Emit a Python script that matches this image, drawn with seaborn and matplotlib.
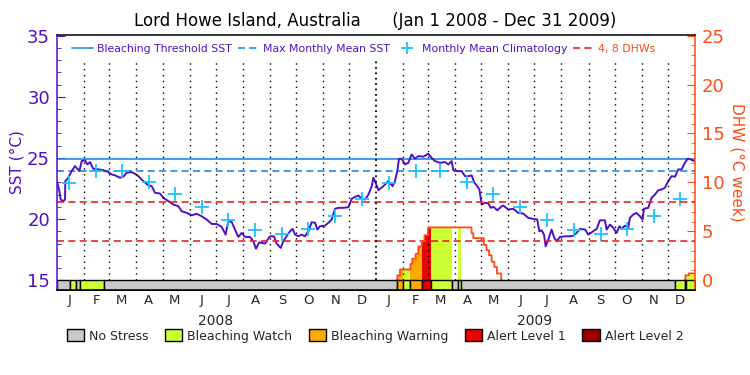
"""Lord Howe Island SST / DHW chart, 2008-2009."""

import matplotlib

matplotlib.use("Agg")
import matplotlib.dates as mdates
import matplotlib.pyplot as plt
import numpy as np
import pandas as pd
import seaborn as sns
from matplotlib.lines import Line2D
from matplotlib.patches import Patch

START = pd.Timestamp("2008-01-01")
END = pd.Timestamp("2010-01-01")

# SST readings: day offset from Jan 1 2008 and value (degC)
SST_DAYS = [
    0, 0.5, 2.7, 4.2, 7.3, 9.2, 9.5, 13, 16.8, 20.6, 25.6, 28.3, 32, 34.8, 37.8, 41.6,
    47.4, 53.1, 58.8, 62.6, 66.5, 72.2, 76, 79.8, 85.5, 89.4, 93.2, 98.9, 104.6, 108.5,
    112.3, 118, 121.8, 127.6, 133.3, 139, 142.8, 148.6, 154.3, 160, 165.8, 171.5, 177.2,
    182.9, 188.7, 193.2, 196.3, 200.1, 203.9, 207.8, 211.6, 215.4, 221.1, 224.9, 228,
    231.8, 238.3, 244, 248.6, 251.7, 256.3, 259.3, 263, 267, 270, 272.7, 276.5, 280.3,
    284, 288, 291.8, 295.6, 298.3, 301.3, 307, 311, 314.7, 318.5, 322.3, 328, 334,
    337.7, 341.5, 345.3, 349.2, 353, 356.8, 360.6, 362.5, 365.5, 368.2, 373.9, 379.6,
    384.6, 387.2, 389.9, 391.8, 394.9, 398.7, 402.5, 406.3, 410.2, 414, 419.7, 425.4,
    429.3, 433.1, 438.8, 444.5, 448.4, 452.2, 454.1, 457.9, 463.6, 467.5, 471.3, 475.1,
    478.2, 480.9, 483.9, 486.6, 490.4, 494.2, 496.9, 500, 504.6, 509.5, 511.4, 517.1,
    522.8, 528.5, 534.3, 540, 545.7, 550.3, 552.6, 555.3, 558, 559.9, 562.9, 566.7,
    569.8, 572.5, 576.3, 582, 587.8, 591.6, 595.4, 599.2, 605, 608.8, 612.6, 618.3,
    622.1, 627.8, 629.7, 633.6, 637.4, 641.2, 644.3, 646.9, 650.7, 654.5, 656.4, 660.2,
    664, 667.9, 670.9, 672.5, 677.4, 681.3, 685.1, 688.9, 692.7, 696.5, 700.4, 704.2,
    708, 711.8, 715.6, 719.4, 722.5, 725.9, 730.1,
]
SST_VALUES = [
    23.10, 22.97, 22.28, 21.60, 21.46, 21.60, 23.10, 23.38, 23.92, 24.33, 23.92, 24.74,
    24.80, 24.47, 24.66, 24.11, 24.06, 24.00, 23.84, 23.65, 23.57, 23.38, 23.46, 23.79,
    23.84, 23.70, 23.51, 23.10, 22.77, 22.69, 22.15, 22.09, 21.74, 21.46, 21.19, 21.05,
    20.64, 20.51, 20.31, 20.43, 20.23, 19.96, 19.60, 19.60, 19.36, 18.73, 19.82, 19.77,
    19.14, 18.54, 18.87, 18.54, 18.54, 18.18, 17.58, 18.10, 17.99, 18.59, 18.59, 17.99,
    17.64, 18.18, 18.59, 19.00, 19.20, 18.73, 18.59, 18.73, 18.59, 19.00, 19.74, 19.70,
    19.14, 19.41, 19.46, 19.70, 19.96, 20.84, 20.92, 20.92, 20.97, 21.66, 21.82, 21.93,
    21.66, 21.60, 22.00, 22.69, 23.38, 22.89, 22.36, 22.69, 23.10, 22.69, 23.10, 23.92,
    24.93, 24.93, 24.47, 24.60, 25.29, 24.93, 25.15, 25.10, 25.34, 25.00, 24.74, 24.60,
    24.66, 24.47, 24.74, 24.00, 23.92, 23.92, 23.51, 23.51, 23.57, 22.97, 22.75, 22.42,
    21.19, 21.33, 21.28, 20.92, 21.00, 20.72, 21.05, 21.10, 20.78, 20.84, 20.50, 20.45,
    20.10, 20.01, 19.96, 19.00, 19.08, 18.73, 17.77, 18.32, 19.14, 18.46, 18.18, 18.54,
    18.59, 18.59, 18.64, 18.87, 19.20, 19.14, 18.73, 18.92, 19.20, 19.90, 19.90, 19.14,
    19.55, 19.28, 18.87, 19.41, 19.20, 19.46, 19.28, 20.10, 20.37, 20.50, 20.23, 19.96,
    20.84, 20.92, 21.74, 22.00, 22.36, 22.42, 22.56, 23.10, 23.51, 23.46, 24.06, 24.06,
    24.60, 24.93, 24.88, 24.74,
]

CLIM_MONTHS = list(range(1, 13))
CLIM_VALUES = [22.97, 23.92, 23.92, 23.05, 22.09, 21.00, 19.90, 19.14, 18.79, 19.20, 20.23, 21.62]

MMM_SST = 23.95
THRESHOLD_SST = MMM_SST + 1.0
DHW_LINES = [4, 8]

DHW_DATES = [
    "2009-01-25", "2009-01-28", "2009-02-09", "2009-02-11", "2009-02-15", "2009-02-18",
    "2009-02-22", "2009-02-25", "2009-03-01", "2009-03-02", "2009-04-20", "2009-04-22",
    "2009-05-04", "2009-05-07", "2009-05-10", "2009-05-13", "2009-05-16", "2009-05-19",
    "2009-05-24", "2009-12-21", "2009-12-25",
]
DHW_VALUES = [
    0.5, 1.1, 1.67, 2.2, 2.7, 3.45, 4.0, 4.6, 5.3, 5.4, 4.8, 4.3,
    3.6, 3.07, 2.56, 1.88, 1.36, 0.69, 0.0, 0.5, 0.7,
]

# stress level starts: 0 none, 1 watch, 2 warning, 3 alert 1, 4 alert 2
STRESS_DATES = [
    "2008-01-01", "2008-01-16", "2008-01-23", "2008-01-27", "2008-02-24", "2009-01-25",
    "2009-02-01", "2009-02-09", "2009-02-22", "2009-03-05", "2009-03-29", "2009-04-05",
    "2009-04-08", "2009-12-09", "2009-12-21", "2009-12-22",
]
STRESS_LEVELS = [0, 1, 0, 1, 0, 2, 1, 2, 3, 1, 0, 1, 0, 1, 0, 1]
STRESS_NAMES = ["No Stress", "Bleaching Watch", "Bleaching Warning", "Alert Level 1", "Alert Level 2"]
STRESS_COLORS = ["#c8c8c8", "#ccff33", "#ffaa00", "#ee0000", "#960000"]

MONTH_LETTERS = list("JFMAMJJASOND")

PURPLE = "#5010c8"
ORANGE = "#ff4b14"
BLUE = "#1c8ce8"
CYAN = "#19c3ff"
RED = "#ee2222"


def sst_to_dhw(v):
    return (v - 15.0) * 1.25


def main() -> None:
    sns.set_style("ticks")
    plt.rcParams["font.family"] = ["DejaVu Sans"]

    days = pd.date_range(START, END, freq="D")
    dhw = (
        pd.Series(DHW_VALUES, index=pd.to_datetime(DHW_DATES))
        .reindex(days, method="ffill")
        .fillna(0.0)
    )
    level = pd.Series(STRESS_LEVELS, index=pd.to_datetime(STRESS_DATES)).reindex(days, method="ffill")

    sst_df = pd.DataFrame({"date": START + pd.to_timedelta(SST_DAYS, unit="D"), "sst": SST_VALUES})
    clim_df = pd.DataFrame({
        "date": [pd.Timestamp(y, m, 15) for y in (2008, 2009) for m in CLIM_MONTHS],
        "sst": CLIM_VALUES * 2,
    })

    fig = plt.figure(figsize=(7.5, 3.75), dpi=100)
    ax = fig.add_axes([57 / 750, 85 / 375, 638 / 750, 255 / 375])
    ax2 = ax.twinx()

    y_lo, y_hi = 14.2, 35.05
    ax.set_ylim(y_lo, y_hi)
    ax2.set_ylim(sst_to_dhw(y_lo), sst_to_dhw(y_hi))
    ax.set_xlim(START, END)

    # SST side
    ax.axhline(THRESHOLD_SST, color=BLUE, lw=1.2, zorder=2)
    ax.axhline(MMM_SST, color=BLUE, lw=1.2, dashes=(4.2, 2.6), zorder=2)
    sns.lineplot(data=sst_df, x="date", y="sst", ax=ax, color=PURPLE, lw=1.4, zorder=4, legend=False)
    sns.scatterplot(data=clim_df, x="date", y="sst", ax=ax, marker="+", s=90, color=CYAN,
                    linewidth=1.3, zorder=5, legend=False)

    # DHW side: fill by stress level, then the outline
    for k in range(1, 5):
        mask = (level == k) | (level.shift(1) == k)
        if mask.any():
            ax2.fill_between(days, 0, dhw, where=mask.values, step="post",
                             color=STRESS_COLORS[k], lw=0, zorder=1)
    keep = (dhw > 0) | (dhw.shift(1) > 0) | (dhw.shift(-1) > 0)
    ax2.plot(days, dhw.where(keep), drawstyle="steps-post", color=ORANGE, lw=1.3, zorder=3)
    for v in DHW_LINES:
        ax2.axhline(v, color=RED, lw=1.2, dashes=(4.2, 2.6), zorder=2)

    # month grid
    for d in pd.date_range("2008-02-01", "2009-12-01", freq="MS"):
        big = d == pd.Timestamp("2009-01-01")
        ax2.axvline(d, ymin=0.04, ymax=0.9, color="black", lw=1.3 if big else 1.0,
                    linestyle=(0, (1, 2.0)) if big else (0, (1, 3.2)), zorder=2)

    # stress strip under the zero line
    starts = pd.to_datetime(STRESS_DATES)
    ends = list(starts[1:]) + [END]
    for s, e, k in zip(starts, ends, STRESS_LEVELS):
        x0 = mdates.date2num(s)
        ax2.broken_barh([(x0, mdates.date2num(e) - x0)], (sst_to_dhw(y_lo), -sst_to_dhw(y_lo)),
                        facecolors=STRESS_COLORS[k], edgecolor="black", lw=1.0, zorder=6)

    # x axis: month letters and years
    mids = [pd.Timestamp(y, m, 15) for y in (2008, 2009) for m in CLIM_MONTHS]
    ax.set_xticks(mids, labels=MONTH_LETTERS * 2)
    ax.set_xticks([pd.Timestamp("2008-07-01"), pd.Timestamp("2009-07-01")], labels=["2008", "2009"], minor=True)
    ax.tick_params(axis="x", which="major", length=0, pad=3, labelsize=9.5)
    ax.tick_params(axis="x", which="minor", length=0, pad=17, labelsize=10)
    ax.set_xlabel("")

    # y axes
    ax.set_yticks(np.arange(15, 36, 5))
    ax.set_yticks(np.arange(15, 36, 1), minor=True)
    ax.tick_params(axis="y", which="both", direction="in", colors=PURPLE, labelsize=13, pad=5)
    ax.tick_params(axis="y", which="major", length=6)
    ax.tick_params(axis="y", which="minor", length=3)
    ax.set_ylabel("SST (°C)", color=PURPLE, fontsize=11, labelpad=2)

    ax2.set_yticks(np.arange(0, 26, 5))
    ax2.set_yticks(np.arange(0, 26, 1), minor=True)
    ax2.tick_params(axis="y", which="both", direction="in", colors=ORANGE, labelsize=13, pad=5)
    ax2.tick_params(axis="y", which="major", length=6)
    ax2.tick_params(axis="y", which="minor", length=3)
    ax2.set_ylabel("DHW (°C week)", color=ORANGE, fontsize=11, rotation=270, labelpad=14)

    # frame drawn on the top axes so it sits over the strip
    for sp in ax.spines.values():
        sp.set_visible(False)
    spine_colors = {"left": PURPLE, "right": ORANGE, "top": "black", "bottom": "black"}
    for name, sp in ax2.spines.items():
        sp.set_visible(True)
        sp.set_color(spine_colors[name])
        sp.set_linewidth(1.1)
        sp.set_zorder(10)

    handles = [
        Line2D([], [], color=BLUE, lw=1.2),
        Line2D([], [], color=BLUE, lw=1.2, dashes=(4.2, 2.6)),
        Line2D([], [], color=CYAN, marker="+", ms=9, mew=1.3, ls="none"),
        Line2D([], [], color=RED, lw=1.2, dashes=(4.2, 2.6)),
    ]
    labels = ["Bleaching Threshold SST", "Max Monthly Mean SST", "Monthly Mean Climatology", "4, 8 DHWs"]
    leg = ax2.legend(handles, labels, loc="upper left", bbox_to_anchor=(0.012, 0.995), ncol=4,
                     frameon=False, fontsize=7.8, handlelength=1.9, handletextpad=0.4,
                     columnspacing=0.6, borderaxespad=0.3)
    for txt, c in zip(leg.get_texts(), [PURPLE, PURPLE, PURPLE, ORANGE]):
        txt.set_color(c)

    fig.legend(
        [Patch(facecolor=c, edgecolor="black", lw=1.0) for c in STRESS_COLORS],
        STRESS_NAMES, loc="center", bbox_to_anchor=(0.5, 1 - 336 / 375), ncol=5,
        frameon=False, fontsize=9, handlelength=1.4, handleheight=1.1,
        columnspacing=1.3, handletextpad=0.4,
    )

    fig.text(0.5, 1 - 21 / 375, "Lord Howe Island, Australia      (Jan 1 2008 - Dec 31 2009)",
             ha="center", va="center", fontsize=12, color="black")

    fig.savefig("out.png", dpi=100)


if __name__ == "__main__":
    main()
